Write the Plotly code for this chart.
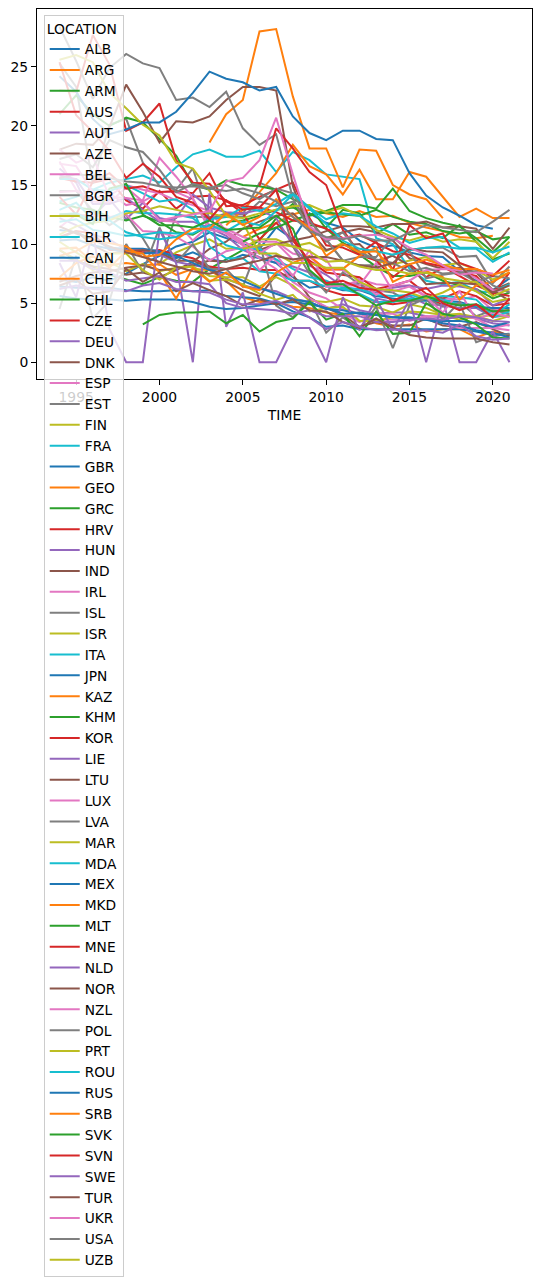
import plotly.graph_objects as go

YEARS = [1994, 1995, 1996, 1997, 1998, 1999, 2000, 2001, 2002, 2003, 2004, 2005, 2006, 2007,
         2008, 2009, 2010, 2011, 2012, 2013, 2014, 2015, 2016, 2017, 2018, 2019, 2020, 2021]

ALB = [7.0, 6.8, 7.2, 6.9, 7.5, 8.3, 9.0, 9.8, 10.2, 11.0, 10.5, 10.0, 9.6, 11.4, 10.4, 12.6, 11.8, 11.4, 10.3, 9.7, 9.9, 9.3, 9.0, 8.9, 7.7, 6.9, 6.1, 7.1]
ARG = [None, None, None, None, None, None, None, None, None, None, None, 10.6, 11.3, 11.8, 12.5, 12.9, 12.6, 12.3, 12.8, 12.3, 12.4, 11.8, 11.4, 11.1, 10.6, 10.5, 10.7, None]
ARM = [9.0, 8.6, 8.1, 7.4, 7.0, 6.6, 7.2, 6.9, 6.8, 7.9, 8.7, 9.5, 10.3, 12.2, 13.4, 11.6, 11.4, 12.9, 12.6, 10.9, 11.7, 10.8, 11.0, 10.5, 11.6, 10.2, 8.7, 9.2]
AUS = [10.6, 11.1, 10.9, 9.5, 9.5, 9.3, 9.5, 9.1, 8.8, 8.1, 7.9, 8.0, 7.8, 7.8, 6.9, 6.9, 6.1, 5.7, 5.7, 5.1, 4.9, 5.1, 5.4, 4.9, 4.5, 4.7, 4.3, 4.4]
AUT = [16.4, 15.2, 12.3, 13.8, 12.1, 13.5, 12.2, 11.9, 11.9, 11.4, 10.7, 9.5, 8.9, 8.4, 8.1, 7.6, 6.6, 6.6, 6.6, 5.4, 5.1, 5.6, 4.9, 4.8, 4.6, 4.6, 3.8, 4.0]
AZE = [9.5, 8.6, 8.1, 7.9, 7.4, 7.6, 7.2, 7.8, 8.5, 9.6, 10.2, 11.3, 11.9, 12.4, 12.6, 11.3, 10.5, 11.0, 11.3, 11.0, 10.3, 8.8, 8.3, 7.9, 8.0, 7.6, 6.1, 6.7]
BEL = [17.0, 14.6, 13.6, 13.5, 14.8, 13.6, 14.4, 14.4, 13.8, 11.6, 11.3, 10.6, 10.2, 10.2, 9.2, 8.9, 7.9, 7.8, 7.0, 6.6, 6.5, 6.5, 5.6, 5.4, 5.3, 5.6, 4.4, 4.6]
BGR = [14.5, 14.5, 12.8, 11.6, 12.5, 10.5, 8.2, 12.5, 12.3, 12.3, 12.4, 12.3, 13.6, 13.2, 13.6, 12.0, 10.4, 8.6, 8.2, 8.2, 9.1, 9.5, 9.7, 9.7, 8.9, 9.0, 6.7, 8.1]
BIH = [None, None, None, None, None, None, 8.3, 9.3, 9.9, 10.4, 9.6, 9.7, 10.4, 10.4, 9.8, 10.1, 9.4, 10.1, 9.4, 8.6, 8.3, 8.6, 8.9, 8.2, 8.4, 7.8, 7.0, 7.6]
BLR = [13.6, 14.0, 14.6, 15.2, 15.5, 15.8, 15.2, 16.5, 17.6, 18.0, 17.4, 17.4, 17.9, 16.1, 17.8, 17.1, 15.9, 15.7, 15.5, 10.5, 10.0, 7.9, 6.9, 6.6, 6.8, 6.0, 5.9, 6.6]
CAN = [11.2, 11.0, 10.4, 9.7, 9.6, 9.6, 9.4, 8.8, 9.3, 8.7, 8.5, 9.1, 8.8, 8.4, 7.2, 6.3, 6.5, 6.1, 6.1, 5.6, 5.4, 5.2, 5.2, 5.2, 5.1, 4.7, 4.6, 4.6]
CHE = [9.6, 9.7, 8.5, 8.2, 8.4, 8.2, 8.3, 7.4, 7.9, 7.8, 6.9, 5.5, 5.1, 5.1, 4.7, 4.6, 4.2, 4.0, 4.2, 3.3, 3.0, 3.2, 2.6, 2.8, 2.8, 2.1, 2.6, 2.3]
CHL = [13.5, 13.1, 12.9, 12.3, 12.0, 12.4, 11.9, 11.0, 10.8, 11.6, 11.9, 12.0, 12.4, 12.9, 13.1, 12.4, 12.7, 12.5, 12.4, 12.9, 12.3, 11.9, 11.7, 11.1, 10.9, 11.1, 10.4, 10.6]
CZE = [15.6, 15.3, 15.2, 15.5, 13.7, 13.0, 14.5, 13.0, 14.0, 14.1, 13.7, 12.6, 10.4, 11.8, 10.3, 8.6, 7.6, 7.4, 7.2, 6.2, 6.5, 6.9, 5.8, 5.4, 6.0, 5.6, 4.8, 5.0]
DEU = [12.2, 11.6, 10.8, 10.4, 9.5, 9.5, 9.1, 8.5, 8.2, 8.0, 7.1, 6.5, 6.2, 6.0, 5.4, 5.1, 4.5, 4.9, 4.4, 4.1, 4.2, 4.2, 3.9, 3.8, 4.0, 3.7, 3.3, 3.1]
DNK = [10.5, 11.1, 9.9, 9.2, 9.4, 9.5, 9.3, 8.6, 8.6, 8.0, 6.8, 6.1, 5.6, 7.4, 7.4, 5.5, 4.6, 4.0, 3.0, 3.4, 3.1, 3.1, 3.7, 3.1, 3.0, 3.4, 2.8, 2.2]
ESP = [14.4, 14.5, 13.9, 14.1, 15.0, 14.6, 14.3, 13.7, 13.3, 12.8, 11.1, 10.3, 9.4, 8.6, 6.8, 5.9, 5.4, 4.5, 4.1, 3.6, 3.6, 3.6, 3.9, 3.9, 3.9, 3.7, 2.9, 3.2]
EST = [25.3, 23.3, 15.1, 20.1, 20.6, 16.9, 14.9, 14.6, 16.4, 12.1, 12.6, 12.5, 15.2, 14.6, 9.8, 7.5, 5.9, 7.6, 6.6, 6.1, 5.9, 5.1, 5.4, 3.6, 5.1, 3.9, 4.4, 4.1]
FIN = [9.5, 8.7, 7.8, 8.5, 7.7, 8.3, 7.7, 8.0, 8.1, 7.3, 7.2, 7.2, 6.4, 7.2, 6.5, 5.2, 5.1, 5.4, 4.8, 4.7, 4.2, 4.9, 4.6, 4.0, 4.1, 3.8, 4.0, 3.9]
FRA = [15.5, 15.5, 14.6, 14.5, 15.0, 14.3, 13.6, 13.8, 12.9, 9.8, 8.8, 8.8, 7.7, 7.5, 6.9, 6.9, 6.4, 6.2, 5.8, 5.1, 5.1, 5.4, 5.4, 5.3, 4.9, 4.8, 3.8, 4.3]
GBR = [6.4, 6.3, 6.3, 6.3, 6.1, 6.0, 6.0, 6.1, 6.0, 6.1, 5.6, 5.5, 5.4, 5.0, 4.3, 3.8, 3.0, 3.1, 2.8, 2.8, 2.8, 2.8, 2.8, 2.8, 2.8, 2.6, 2.3, 2.4]
GEO = [None, None, None, None, None, None, None, None, None, None, 11.6, 12.9, 14.4, 16.0, 18.4, 16.6, 15.9, 14.2, 16.3, 13.8, 13.8, 16.1, 15.7, 14.0, 12.3, 13.0, 12.2, 12.2]
GRC = [21.0, 22.6, 21.0, 20.0, 20.7, 20.3, 18.9, 17.5, 15.0, 14.6, 15.4, 15.0, 14.9, 14.6, 13.8, 13.2, 11.3, 10.1, 9.1, 8.1, 7.3, 7.3, 7.6, 6.9, 6.5, 6.2, 5.4, 5.9]
HRV = [14.0, 12.5, 15.3, 16.0, 14.7, 14.9, 14.4, 14.5, 14.3, 16.0, 13.2, 13.3, 14.0, 14.6, 15.2, 12.2, 9.9, 9.7, 9.1, 8.6, 7.2, 8.3, 7.2, 8.0, 7.6, 7.3, 5.7, 7.6]
HUN = [15.8, 15.5, 13.4, 13.4, 13.9, 12.9, 11.9, 12.2, 14.2, 13.1, 12.7, 12.6, 12.9, 12.2, 9.9, 8.2, 7.4, 6.4, 6.1, 5.9, 6.3, 6.5, 6.2, 6.5, 6.4, 6.2, 4.8, 5.4]
IND = [6.8, 7.3, 7.6, 7.7, 8.0, 8.2, 7.8, 7.9, 8.2, 8.6, 8.5, 8.8, 9.5, 10.0, 10.3, 10.6, 11.1, 11.5, 11.5, 11.4, 11.7, 11.7, 11.9, 11.4, 11.5, 11.3, 9.6, 11.4]
IRL = [11.4, 12.5, 12.4, 12.3, 12.5, 11.1, 11.0, 10.6, 9.8, 8.6, 9.4, 9.7, 8.8, 7.9, 6.3, 5.4, 4.7, 4.1, 3.4, 4.1, 4.1, 3.5, 3.9, 3.3, 2.9, 2.9, 2.9, 2.7]
ISL = [4.5, 9.0, 3.7, 5.2, 10.0, 7.6, 11.4, 8.4, 10.0, 7.9, 7.9, 6.4, 10.1, 4.8, 3.8, 5.3, 2.5, 3.8, 2.8, 4.7, 1.2, 4.8, 5.4, 4.7, 5.0, 1.7, 2.2, 2.4]
ISR = [10.2, 9.3, 8.4, 9.2, 9.2, 7.8, 7.0, 8.0, 8.1, 6.9, 7.0, 6.6, 5.8, 5.3, 5.7, 4.3, 4.6, 4.7, 3.5, 3.5, 3.8, 4.3, 4.2, 4.0, 3.6, 3.9, 3.5, 3.9]
ITA = [12.5, 12.6, 12.0, 12.2, 12.8, 12.6, 12.6, 12.5, 12.2, 11.0, 9.9, 9.5, 9.6, 8.7, 7.9, 7.2, 6.9, 6.3, 6.2, 5.7, 5.6, 5.7, 5.4, 5.6, 5.5, 5.3, 4.0, 4.9]
JPN = [10.3, 10.4, 9.9, 9.6, 9.3, 9.2, 9.3, 9.0, 8.4, 7.8, 7.5, 6.9, 6.3, 5.8, 5.3, 5.1, 4.5, 4.4, 4.1, 4.0, 3.8, 3.8, 3.6, 3.3, 3.1, 2.7, 2.5, 2.1]
KAZ = [None, None, None, None, None, None, None, None, None, 18.6, 21.0, 22.2, 28.0, 28.2, 22.5, 18.1, 18.1, 14.8, 18.0, 17.9, 15.0, 14.2, 13.8, 12.2, None, None, None, None]
KHM = [None, None, None, None, None, None, None, None, None, None, None, 10.2, 10.9, 11.4, 12.0, 12.5, 12.8, 13.3, 13.3, 13.0, 14.7, 12.8, 12.2, 11.8, 11.5, 10.5, 9.3, 10.6]
KOR = [23.0, 22.9, 27.7, 25.2, 19.6, 20.3, 21.9, 17.1, 15.2, 15.1, 13.6, 13.2, 13.1, 12.7, 12.0, 11.8, 11.3, 10.5, 10.8, 10.1, 9.4, 9.1, 8.4, 8.1, 7.3, 6.5, 5.9, 5.6]
LIE = [8.4, 5.5, 11.0, 2.8, 0.0, 0.0, 11.2, 8.4, 0.0, 14.3, 3.0, 5.9, 0.0, 0.0, 2.9, 2.9, 0.0, 5.5, 2.7, 5.4, 2.7, 5.3, 0.0, 5.3, 0.0, 0.0, 2.6, 0.0]
LTU = [18.0, 18.5, 18.4, 19.9, 23.5, 21.2, 18.6, 20.4, 20.3, 20.8, 22.2, 23.3, 23.3, 23.0, 14.9, 11.1, 9.5, 9.9, 10.0, 8.6, 9.0, 8.2, 6.6, 6.7, 6.7, 6.6, 6.1, 5.2]
LUX = [18.0, 16.9, 17.4, 14.0, 13.9, 13.7, 17.3, 15.7, 13.9, 11.2, 11.0, 10.1, 7.8, 9.1, 7.3, 9.5, 6.4, 6.5, 6.5, 8.4, 6.0, 6.4, 5.5, 4.2, 6.0, 3.6, 4.2, 3.8]
LVA = [28.4, 25.5, 22.3, 24.9, 26.1, 25.3, 24.9, 22.2, 22.4, 21.6, 22.9, 19.8, 18.4, 19.3, 13.9, 11.2, 10.4, 8.6, 8.9, 8.9, 10.6, 9.4, 7.1, 7.4, 7.6, 6.8, 7.3, 7.1]
MAR = [10.8, 11.5, 11.8, 12.0, 12.6, 12.8, 13.2, 12.9, 12.6, 12.6, 12.3, 12.2, 12.6, 12.9, 13.2, 13.3, 12.7, 13.1, 12.4, 11.2, 10.6, 10.3, 10.7, 10.2, 10.4, 10.2, 8.8, 10.2]
MDA = [12.9, 13.5, 12.1, 12.0, 11.0, 10.6, 10.4, 10.6, 11.3, 12.1, 12.3, 13.1, 12.8, 13.4, 14.3, 13.1, 12.1, 12.6, 12.4, 11.5, 10.9, 10.1, 10.5, 10.6, 9.7, 9.7, 9.3, 9.8]
MEX = [5.6, 5.4, 5.3, 5.3, 5.2, 5.3, 5.3, 5.3, 5.1, 4.7, 4.5, 4.6, 4.8, 5.0, 5.1, 4.9, 4.6, 4.1, 4.2, 4.0, 3.8, 3.7, 3.6, 3.5, 3.5, 3.3, 3.0, 3.4]
MKD = [7.2, 8.4, 9.0, 8.0, 9.4, 9.2, 7.6, 5.4, 8.0, 6.8, 7.6, 6.4, 6.1, 7.6, 8.4, 9.0, 7.8, 7.9, 9.0, 9.7, 6.8, 7.5, 7.7, 7.2, 5.3, 6.5, 6.8, 7.6]
MLT = [None, None, None, None, None, 3.2, 4.0, 4.2, 4.2, 4.3, 3.3, 4.0, 2.6, 3.4, 3.7, 5.1, 3.6, 4.1, 2.2, 4.3, 2.4, 2.5, 5.0, 4.1, 3.8, 3.2, 2.1, 2.0]
MNE = [None, None, None, None, None, None, None, None, None, None, None, None, 14.9, 19.8, 18.1, 16.1, 15.0, 11.2, 9.2, 10.2, 7.8, 11.6, 10.5, 10.9, 8.4, 7.9, 7.3, 8.6]
NLD = [8.6, 8.6, 7.9, 7.6, 6.9, 7.1, 7.3, 6.8, 6.8, 6.6, 5.0, 4.6, 4.5, 4.4, 4.1, 4.4, 3.9, 3.9, 3.9, 3.4, 3.4, 3.6, 3.7, 3.6, 3.9, 3.8, 3.5, 3.4]
NOR = [6.5, 7.0, 5.8, 6.0, 7.9, 6.8, 7.6, 6.0, 6.7, 6.1, 5.6, 4.8, 5.3, 4.9, 5.3, 4.4, 4.3, 3.4, 2.9, 3.7, 2.9, 2.3, 2.1, 2.0, 2.0, 2.0, 1.7, 1.5]
NZL = [16.8, 16.6, 14.4, 14.3, 13.3, 13.6, 12.0, 11.9, 10.3, 11.6, 10.9, 9.9, 9.2, 10.1, 8.7, 8.9, 8.7, 6.5, 6.9, 5.7, 6.5, 6.9, 7.8, 7.9, 7.8, 7.1, 6.1, 6.0]
POL = [17.2, 17.6, 16.5, 18.8, 18.2, 17.8, 16.3, 14.4, 15.1, 14.8, 15.0, 14.3, 13.8, 14.7, 14.3, 12.0, 10.2, 11.0, 9.3, 8.7, 8.4, 7.7, 8.0, 7.5, 7.6, 7.7, 6.5, 5.9]
PRT = [25.6, 26.0, 25.4, 22.8, 21.5, 20.1, 19.2, 16.9, 16.4, 14.5, 12.4, 11.8, 9.2, 9.2, 8.4, 8.4, 8.0, 8.0, 6.8, 6.2, 6.1, 5.9, 5.4, 5.9, 6.6, 6.0, 5.1, 5.4]
ROU = [11.9, 12.1, 11.2, 11.0, 10.7, 10.8, 11.0, 10.9, 10.9, 11.6, 11.1, 11.9, 11.6, 12.8, 14.2, 13.0, 11.7, 10.3, 9.6, 9.4, 9.1, 9.5, 9.7, 9.8, 9.6, 9.6, 8.5, 9.3]
RUS = [24.2, 22.9, 20.6, 19.3, 19.7, 20.3, 20.3, 21.2, 22.8, 24.6, 24.0, 23.7, 23.0, 23.3, 20.8, 19.4, 18.8, 19.6, 19.6, 18.9, 18.8, 16.0, 14.1, 13.1, 12.4, 11.6, 11.3, None]
SRB = [9.0, 9.4, 10.2, 10.1, 9.8, 8.9, 9.1, 10.4, 11.3, 11.3, 12.6, 11.6, 12.3, 13.8, 12.3, 11.4, 9.0, 10.0, 9.3, 9.4, 7.8, 8.3, 8.7, 8.2, 7.9, 7.9, 7.4, 7.8]
SVK = [12.5, 12.5, 11.7, 14.7, 15.1, 12.5, 11.6, 11.6, 11.4, 12.0, 11.2, 11.3, 11.4, 12.4, 11.3, 7.8, 6.6, 6.6, 5.7, 4.8, 5.2, 5.2, 5.6, 5.1, 4.8, 4.9, 4.3, 4.4]
SVN = [25.4, 20.9, 19.5, 17.9, 15.6, 16.8, 15.7, 14.0, 13.5, 12.1, 13.7, 12.9, 13.1, 14.6, 10.6, 8.4, 6.7, 6.9, 6.3, 6.1, 5.2, 5.8, 6.3, 5.0, 4.4, 4.9, 3.8, 5.4]
SWE = [6.2, 6.5, 6.2, 6.1, 6.0, 6.5, 6.7, 6.2, 6.0, 5.9, 5.3, 4.9, 4.9, 5.2, 4.6, 3.8, 2.8, 3.4, 3.0, 2.7, 2.8, 2.6, 2.7, 2.5, 3.2, 2.2, 1.9, 2.0]
TUR = [11.5, 10.9, 10.4, 9.8, 9.3, 8.9, 8.5, 8.1, 7.7, 7.5, 7.9, 8.3, 8.6, 9.0, 8.7, 8.9, 8.9, 8.6, 8.2, 8.0, 8.4, 9.6, 9.4, 9.3, 8.2, 6.7, 5.9, 6.5]
UKR = [None, None, None, None, None, None, 12.0, 12.3, 12.5, 12.8, 15.3, 15.6, 17.1, 20.7, 15.9, 11.5, 10.4, 10.5, 10.7, 10.8, 10.5, 9.7, 9.1, 8.2, 7.4, 7.6, 7.5, None]
USA = [15.6, 15.9, 15.8, 15.6, 15.3, 15.2, 14.9, 14.8, 14.9, 14.7, 14.5, 14.7, 14.3, 13.6, 12.3, 11.1, 10.6, 10.4, 10.7, 10.3, 10.3, 11.0, 11.6, 11.4, 11.2, 11.0, 11.9, 12.9]
UZB = [None, None, None, None, None, None, None, None, None, None, None, 9.6, 9.9, 10.0, 9.8, 9.4, 8.5, 8.6, 8.1, 7.8, 7.8, 7.5, 7.6, 7.1, 6.9, 6.8, 5.6, 6.2]

LOCATIONS = ["ALB", "ARG", "ARM", "AUS", "AUT", "AZE", "BEL", "BGR", "BIH", "BLR", "CAN", "CHE",
             "CHL", "CZE", "DEU", "DNK", "ESP", "EST", "FIN", "FRA", "GBR", "GEO", "GRC", "HRV",
             "HUN", "IND", "IRL", "ISL", "ISR", "ITA", "JPN", "KAZ", "KHM", "KOR", "LIE", "LTU",
             "LUX", "LVA", "MAR", "MDA", "MEX", "MKD", "MLT", "MNE", "NLD", "NOR", "NZL", "POL",
             "PRT", "ROU", "RUS", "SRB", "SVK", "SVN", "SWE", "TUR", "UKR", "USA", "UZB"]
SERIES = [ALB, ARG, ARM, AUS, AUT, AZE, BEL, BGR, BIH, BLR, CAN, CHE,
          CHL, CZE, DEU, DNK, ESP, EST, FIN, FRA, GBR, GEO, GRC, HRV,
          HUN, IND, IRL, ISL, ISR, ITA, JPN, KAZ, KHM, KOR, LIE, LTU,
          LUX, LVA, MAR, MDA, MEX, MKD, MLT, MNE, NLD, NOR, NZL, POL,
          PRT, ROU, RUS, SRB, SVK, SVN, SWE, TUR, UKR, USA, UZB]

X_TICKS = [1995, 2000, 2005, 2010, 2015, 2020]
Y_TICKS = [0, 5, 10, 15, 20, 25]

COLORS = ["#1f77b4", "#ff7f0e", "#2ca02c", "#d62728", "#9467bd",
          "#8c564b", "#e377c2", "#7f7f7f", "#bcbd22", "#17becf"]

fig = go.Figure()
for i, (name, vals) in enumerate(zip(LOCATIONS, SERIES)):
    fig.add_trace(go.Scatter(
        x=YEARS, y=vals, mode="lines", name=name,
        line=dict(color=COLORS[i % 10], width=2),
        connectgaps=False,
    ))

FONT = "DejaVu Sans"
axis_common = dict(
    showline=True, linecolor="black", linewidth=1, mirror=True,
    ticks="outside", ticklen=5, tickwidth=1, tickcolor="black",
    showgrid=False, zeroline=False,
    tickfont=dict(family=FONT, size=13.9, color="black"),
)

fig.update_layout(
    width=543, height=1287,
    margin=dict(l=37, r=11, t=9, b=908, pad=0),
    paper_bgcolor="white", plot_bgcolor="white",
    font=dict(family=FONT, size=13.9, color="black"),
    xaxis=dict(range=[1992.65, 2022.35], tickvals=X_TICKS,
               title=dict(text="TIME", standoff=6, font=dict(family=FONT, size=13.9, color="black")),
               **axis_common),
    yaxis=dict(range=[-1.42, 29.9], tickvals=Y_TICKS, **axis_common),
    showlegend=True,
    legend=dict(
        x=0.0136, y=0.985, xanchor="left", yanchor="top",
        bgcolor="rgba(255,255,255,0.8)", bordercolor="#cccccc", borderwidth=1,
        font=dict(family=FONT, size=13.75, color="black"),
        title=dict(text="LOCATION", font=dict(family=FONT, size=13.9, color="black")),
        maxheight=1280,
        tracegroupgap=0,
    ),
)

fig.write_html("out.html", config={"displayModeBar": False},
               post_script="document.body.style.margin='0px';")
